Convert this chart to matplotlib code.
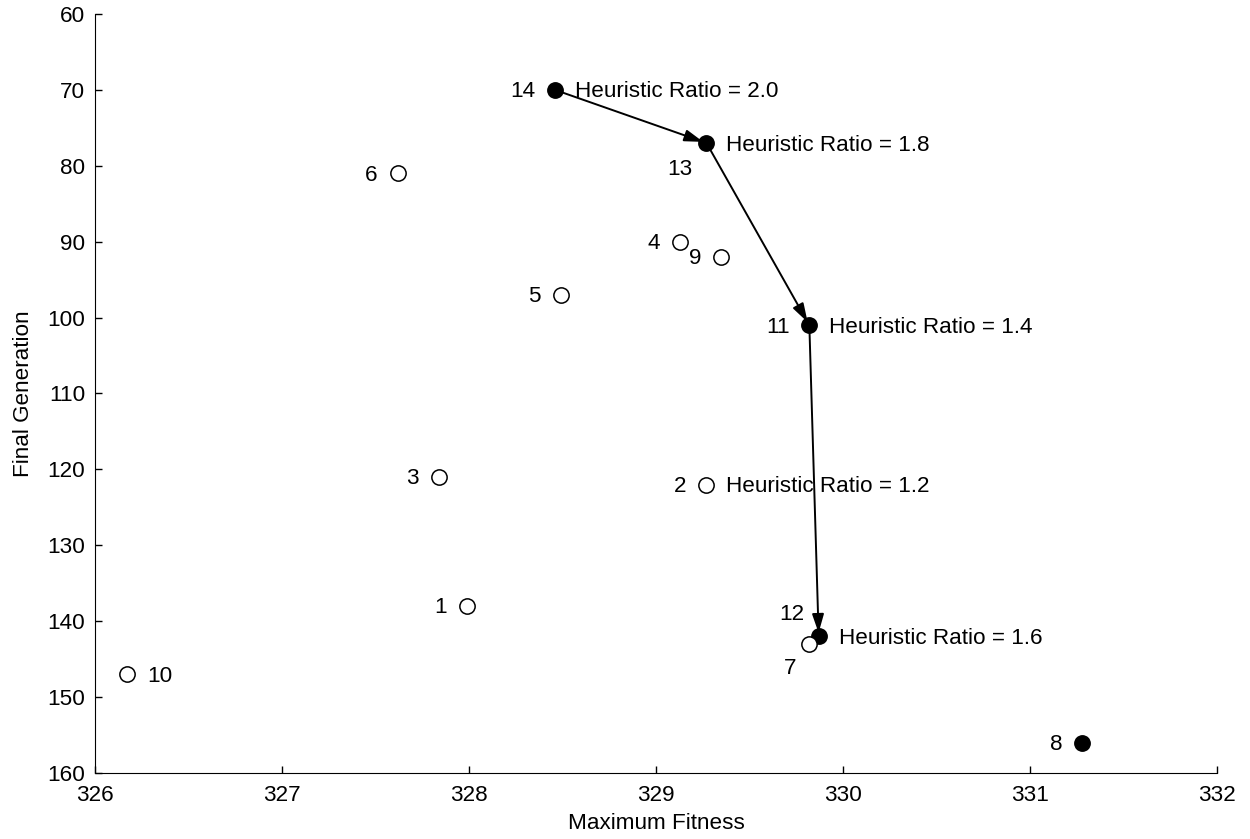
import matplotlib
matplotlib.use("Agg")
import matplotlib.pyplot as plt

plt.rcParams['font.family'] = ['Liberation Sans', 'DejaVu Sans']
plt.rcParams['font.size'] = 16.2

# run id, maximum fitness, final generation, on pareto front
ids     = [14, 13, 6, 4, 9, 5, 11, 3, 2, 1, 12, 7, 10, 8]
fitness = [328.46, 329.27, 327.62, 329.13, 329.35, 328.49, 329.82, 327.84,
           329.27, 327.99, 329.87, 329.82, 326.17, 331.28]
gens    = [70, 77, 81, 90, 92, 97, 101, 121, 122, 138, 142, 143, 147, 156]
front   = [True, True, False, False, False, False, True, False,
           False, False, True, False, False, True]

# heuristic ratio labels, keyed by run id
ratios = {14: "2.0", 13: "1.8", 11: "1.4", 2: "1.2", 12: "1.6"}
# arrows between runs
path = [14, 13, 11, 12]

# label offsets in pixels (dx, dy, ha)
offs = {14: (-20, 0, 'right'), 13: (-14, -24, 'right'), 6: (-20, 0, 'right'),
        4: (-20, 0, 'right'), 9: (-20, 0, 'right'), 5: (-20, 0, 'right'),
        11: (-19, 0, 'right'), 3: (-20, 0, 'right'), 2: (-20, 0, 'right'),
        1: (-20, 0, 'right'), 12: (-14, 24, 'right'), 7: (-13, -23, 'right'),
        10: (20, 0, 'left'), 8: (-20, 0, 'right')}

fig = plt.figure(figsize=(12.5, 8.39), dpi=100)
ax = fig.add_axes([0.076, 0.0787, 0.8976, 0.9046])

pt = 0.72  # points per pixel at dpi 100
idx = {r: i for i, r in enumerate(ids)}

for a, b in zip(path[:-1], path[1:]):
    ax.annotate("", xy=(fitness[idx[b]], gens[idx[b]]),
                xytext=(fitness[idx[a]], gens[idx[a]]),
                arrowprops=dict(arrowstyle="-|>,head_length=0.7,head_width=0.22",
                                color='black', lw=1.4, shrinkA=0, shrinkB=2.5),
                zorder=2)

for i, r in enumerate(ids):
    ax.plot(fitness[i], gens[i], 'o', ms=11, mec='black', mew=1.1,
            mfc='black' if front[i] else 'white', zorder=3)
    dx, dy, ha = offs[r]
    ax.annotate(str(r), (fitness[i], gens[i]), xytext=(dx * pt, (dy - 2) * pt),
                textcoords='offset points', ha=ha, va='center')
    if r in ratios:
        ax.annotate("Heuristic Ratio = " + ratios[r], (fitness[i], gens[i]),
                    xytext=(20 * pt, -2 * pt), textcoords='offset points',
                    ha='left', va='center')

ax.set_xlim(326, 332)
ax.set_ylim(160, 60)
ax.set_xticks(range(326, 333))
ax.set_yticks(range(60, 161, 10))
ax.spines['top'].set_visible(False)
ax.spines['right'].set_visible(False)
ax.tick_params(direction='in', length=5, width=1)
ax.tick_params(axis='x', pad=8.5)
ax.tick_params(axis='y', pad=7)
ax.set_xlabel("Maximum Fitness", labelpad=5)
ax.set_ylabel("Final Generation", labelpad=10)

fig.savefig("out.png", dpi=100)
